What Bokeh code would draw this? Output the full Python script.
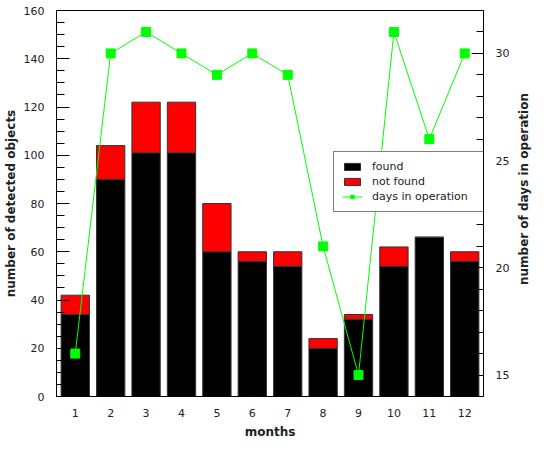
import math
from bokeh.plotting import figure
from bokeh.layouts import row
from bokeh.models import (Range1d, LinearAxis, SingleIntervalTicker, FixedTicker,
                          Legend, LegendItem)
from bokeh.core.properties import value
from bokeh.embed import file_html
from bokeh.resources import INLINE

months = [1, 2, 3, 4, 5, 6, 7, 8, 9, 10, 11, 12]
found = [34, 90, 101, 101, 60, 56, 54, 20, 32, 54, 66, 56]
total = [42, 104, 122, 122, 80, 60, 60, 24, 34, 62, 66, 60]
days = [16, 30, 31, 30, 29, 30, 29, 21, 15, 31, 26, 30]
right_title_text = "number of days in operation"

FONT = "DejaVu Sans"
TXT = "#222222"
H = 441

p = figure(width=512, height=H, output_backend="svg", toolbar_location=None,
           x_range=Range1d(0.47, 12.53), y_range=Range1d(0, 160),
           min_border_left=56, min_border_right=28, min_border_top=10, min_border_bottom=43)
p.extra_y_ranges = {"days": Range1d(14, 32)}
p.xgrid.visible = False
p.ygrid.visible = False
p.outline_line_color = "black"
p.outline_line_width = 1
p.background_fill_color = "white"
p.border_fill_color = "white"

r_found = p.vbar(x=months, width=0.8, bottom=0, top=found, fill_color="black",
                 line_color="#333333", line_width=1)
r_nf = p.vbar(x=months, width=0.8, bottom=found, top=total, fill_color="#ff0000",
              line_color="#333333", line_width=1)
r_line = p.line(x=months, y=days, y_range_name="days", line_color="#00ff00", line_width=1)
r_pts = p.scatter(x=months, y=days, y_range_name="days", marker="square", size=9,
                  fill_color="#00ff00", line_color="#00ff00")

# bottom axis
xa = p.xaxis[0]
xa.ticker = FixedTicker(ticks=months)
xa.major_tick_in = 0
xa.major_tick_out = 0
xa.minor_tick_line_color = None
xa.major_label_standoff = 12
xa.axis_label = "months"
xa.axis_label_standoff = 5

# left axis
ya = p.yaxis[0]
ya.ticker = SingleIntervalTicker(interval=20, num_minor_ticks=4)
ya.major_tick_in = 13
ya.major_tick_out = 0
ya.minor_tick_in = 8
ya.minor_tick_out = 0
ya.major_label_standoff = 12
ya.axis_label = "number of detected objects"
ya.axis_label_standoff = 3

# right axis
yr = LinearAxis(y_range_name="days",
                ticker=SingleIntervalTicker(interval=5, num_minor_ticks=5))
yr.major_tick_in = 12
yr.major_tick_out = 0
yr.minor_tick_in = 7
yr.minor_tick_out = 0
yr.major_label_standoff = 12
p.add_layout(yr, "right")

for ax in [xa, ya, yr]:
    ax.axis_line_color = "black"
    ax.major_tick_line_color = "black"
    if ax is not xa:
        ax.minor_tick_line_color = "black"
    ax.major_label_text_font = FONT
    ax.major_label_text_font_size = "11px"
    ax.major_label_text_color = TXT
    ax.axis_label_text_font = FONT
    ax.axis_label_text_font_size = "12px"
    ax.axis_label_text_font_style = "bold"
    ax.axis_label_text_color = TXT

legend = Legend(items=[
    LegendItem(label="found", renderers=[r_found]),
    LegendItem(label="not found", renderers=[r_nf]),
    LegendItem(label="days in operation", renderers=[r_line, r_pts]),
], location=(277, 184))
legend.border_line_color = "black"
legend.border_line_width = 1
legend.background_fill_color = "white"
legend.background_fill_alpha = 1
legend.padding = 8
legend.margin = 0
legend.spacing = 2
legend.glyph_width = 20
legend.glyph_height = 9
legend.label_height = 13
legend.label_width = 104
legend.label_standoff = 10
legend.label_text_font = FONT
legend.label_text_font_size = "11px"
legend.label_text_color = TXT
p.add_layout(legend)

# narrow strip holding the right-hand axis title, reading bottom-to-top
p2 = figure(width=22, height=H, output_backend="svg", toolbar_location=None,
            x_range=Range1d(0, 1), y_range=Range1d(0, H), x_axis_type=None, y_axis_type=None,
            min_border_left=0, min_border_right=0, min_border_top=0, min_border_bottom=0)
p2.outline_line_color = None
p2.xgrid.visible = False
p2.ygrid.visible = False
p2.text(x=[0.5], y=[H - 204], text=[right_title_text], angle=math.pi / 2,
        text_align="center", text_baseline="middle", text_font=value(FONT),
        text_font_size="12px", text_font_style="bold", text_color=TXT)

layout = row(p, p2, spacing=0)
open("out.html", "w").write(file_html(layout, INLINE))
